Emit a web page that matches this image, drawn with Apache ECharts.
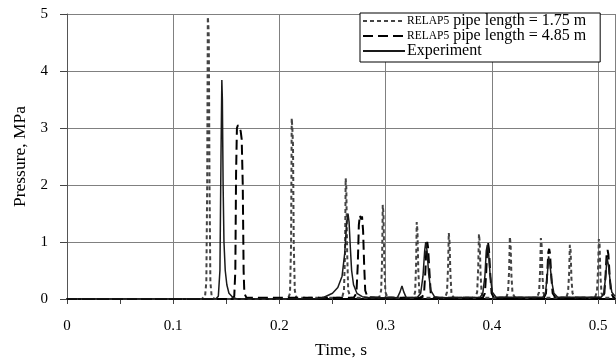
<!DOCTYPE html>
<html>
<head>
<meta charset="utf-8">
<script src="https://cdn.jsdelivr.net/npm/echarts@6/dist/echarts.min.js"></script>
<style>html,body{margin:0;padding:0;background:#fff;}#c{width:616px;height:363px;}</style>
</head>
<body>
<div id="c"></div>
<script>
// Series names
var seriesNames = ['RELAP5 pipe length = 1.75 m', 'RELAP5 pipe length = 4.85 m', 'Experiment'];
// Axis ticks
var xTicks = [0, 0.1, 0.2, 0.3, 0.4, 0.5];
var yTicks = [0, 1, 2, 3, 4, 5];

// RELAP5, pipe length 1.75 m  [time s, pressure MPa]
var relap175 = [
  [0,0],[0.127,0],
  [0.1300,0.05],[0.1312,0.3],[0.1320,2.0],[0.1326,4.95],[0.1331,4.8],[0.1335,4.6],[0.1342,2.0],[0.1350,0.3],[0.1362,0.05],[0.139,0],
  [0.208,0],[0.2100,0.1],[0.2110,1.0],[0.2116,3.17],[0.2122,3.0],[0.2128,2.7],[0.2135,1.0],[0.2145,0.15],[0.216,0.02],
  [0.259,0.02],[0.2608,0.15],[0.2618,0.8],[0.2624,2.12],[0.2630,1.95],[0.2638,0.8],[0.2648,0.15],[0.267,0.02],
  [0.294,0.02],[0.2958,0.15],[0.2967,0.7],[0.2973,1.65],[0.2980,1.5],[0.2988,0.6],[0.2998,0.12],[0.302,0.02],
  [0.326,0.02],[0.3278,0.12],[0.3287,0.6],[0.3293,1.35],[0.3300,1.2],[0.3308,0.5],[0.3318,0.1],[0.334,0.02],
  [0.356,0.02],[0.3578,0.12],[0.3588,0.55],[0.3595,1.16],[0.3602,1.0],[0.3610,0.45],[0.3620,0.1],[0.364,0.02],
  [0.3845,0.02],[0.3862,0.12],[0.3872,0.55],[0.3879,1.14],[0.3886,1.0],[0.3894,0.45],[0.3904,0.1],[0.393,0.02],
  [0.4135,0.02],[0.4153,0.12],[0.4163,0.5],[0.4170,1.09],[0.4177,0.95],[0.4185,0.4],[0.4195,0.1],[0.422,0.02],
  [0.4425,0.02],[0.4445,0.12],[0.4455,0.5],[0.4462,1.07],[0.4469,0.95],[0.4477,0.4],[0.4487,0.1],[0.451,0.02],
  [0.4700,0.02],[0.4718,0.12],[0.4728,0.45],[0.4735,0.95],[0.4742,0.85],[0.4750,0.35],[0.4760,0.1],[0.479,0.02],
  [0.4970,0.02],[0.4990,0.12],[0.5000,0.5],[0.5008,1.05],[0.5015,0.95],[0.5023,0.4],[0.5033,0.1],[0.506,0.02],[0.516,0.02]
];

// RELAP5, pipe length 4.85 m
var relap485 = [
  [0,0],[0.155,0],
  [0.1575,0.05],[0.1585,0.5],[0.1592,2.2],[0.1600,3.0],[0.1610,3.05],[0.1622,3.05],[0.1635,2.95],[0.1645,2.8],[0.1655,2.0],[0.1663,0.5],[0.1670,0.1],[0.169,0.02],
  [0.270,0.02],[0.2725,0.1],[0.2738,0.6],[0.2748,1.3],[0.2758,1.47],[0.2768,1.4],[0.2778,1.45],[0.2788,1.2],[0.2798,0.6],[0.2808,0.15],[0.283,0.03],
  [0.334,0.02],[0.3362,0.1],[0.3375,0.5],[0.3385,0.95],[0.3392,1.0],[0.3400,0.9],[0.3412,0.5],[0.3425,0.1],[0.345,0.02],
  [0.3915,0.02],[0.3935,0.1],[0.3948,0.5],[0.3958,0.92],[0.3965,0.98],[0.3973,0.88],[0.3985,0.45],[0.3998,0.1],[0.402,0.02],
  [0.449,0.02],[0.4510,0.1],[0.4522,0.45],[0.4532,0.82],[0.4540,0.88],[0.4548,0.8],[0.4560,0.4],[0.4573,0.1],[0.460,0.02],
  [0.504,0.02],[0.5060,0.1],[0.5072,0.45],[0.5082,0.82],[0.5090,0.86],[0.5098,0.78],[0.5110,0.4],[0.5123,0.1],[0.515,0.02],[0.516,0.02]
];

// Experiment
var experiment = [
  [0,0],[0.140,0],
  [0.1425,0.05],[0.1440,0.5],[0.1450,2.5],[0.1458,3.84],[0.1463,3.5],[0.1470,2.0],[0.1478,1.0],[0.1490,0.5],[0.1505,0.25],[0.1525,0.1],[0.156,0.03],[0.160,0],
  [0.235,0],[0.242,0.03],[0.250,0.1],[0.255,0.2],[0.259,0.4],[0.2615,0.8],[0.2632,1.3],[0.2646,1.5],[0.2656,1.35],[0.2668,0.9],[0.2680,0.5],[0.2698,0.25],[0.273,0.1],[0.278,0.04],[0.285,0.02],
  [0.311,0.02],[0.3135,0.12],[0.3154,0.23],[0.3172,0.12],[0.3195,0.02],
  [0.330,0.03],[0.333,0.1],[0.3352,0.4],[0.3368,0.85],[0.3378,1.0],[0.3390,0.85],[0.3405,0.45],[0.3425,0.15],[0.346,0.04],[0.352,0.02],
  [0.389,0.03],[0.3915,0.1],[0.3935,0.4],[0.3948,0.85],[0.3958,0.95],[0.3970,0.8],[0.3985,0.4],[0.4005,0.12],[0.404,0.03],
  [0.448,0.03],[0.4505,0.1],[0.4522,0.4],[0.4535,0.75],[0.4548,0.6],[0.4565,0.3],[0.4585,0.1],[0.462,0.03],
  [0.503,0.03],[0.5055,0.1],[0.5072,0.4],[0.5085,0.72],[0.5098,0.6],[0.5115,0.3],[0.5130,0.12],[0.516,0.05]
];

var FONT = '"Liberation Serif","DejaVu Serif",serif';
var chart = echarts.init(document.getElementById('c'), null, {renderer: 'canvas'});
chart.setOption({
  animation: false,
  backgroundColor: '#fff',
  textStyle: {fontFamily: FONT, color: '#000'},
  grid: {left: 67, top: 14, right: 1, bottom: 64, containLabel: false, outerBoundsMode: 'none'},
  legend: {
    orient: 'vertical', left: 360, top: 13,
    backgroundColor: '#fff', borderColor: '#000', borderWidth: 1,
    padding: [0, 14, 3, 2], itemGap: -1, itemWidth: 42, itemHeight: 10,
    itemStyle: {color: 'rgba(0,0,0,0)', borderWidth: 0, opacity: 0},
    textStyle: {fontFamily: FONT, fontSize: 16, lineHeight: 15, color: '#000', padding: [0,0,0,-3],
      rich: {s: {fontFamily: FONT, fontSize: 11.5, lineHeight: 15, color: '#000'}}},
    formatter: function (n) {
      return n.indexOf('RELAP5') === 0 ? '{s|RELAP5}' + n.slice(6) : n;
    },
    data: seriesNames
  },
  xAxis: {
    type: 'value', min: xTicks[0], max: 0.516, interval: 0.1,
    name: 'Time, s', nameLocation: 'middle', nameGap: 42,
    nameTextStyle: {fontFamily: FONT, fontSize: 17.5, color: '#000'},
    axisLine: {show: true, onZero: false, lineStyle: {color: '#000', width: 2}},
    axisTick: {show: true, length: 5, lineStyle: {color: '#444'}},
    minorTick: {show: true, splitNumber: 2, length: 5, lineStyle: {color: '#444'}},
    axisLabel: {fontFamily: FONT, fontSize: 15, color: '#000', margin: 20, showMaxLabel: false,
      formatter: function (v) { return xTicks.indexOf(Math.round(v * 10) / 10) >= 0 && Math.abs(v * 10 - Math.round(v * 10)) < 1e-6 ? String(Math.round(v * 10) / 10) : ''; }},
    splitLine: {show: true, lineStyle: {color: '#808080', width: 1}}
  },
  yAxis: {
    type: 'value', min: yTicks[0], max: yTicks[yTicks.length - 1], interval: 1,
    name: 'Pressure, MPa', nameLocation: 'middle', nameGap: 33, nameRotate: 90,
    nameTextStyle: {fontFamily: FONT, fontSize: 17.5, color: '#000'},
    axisLine: {show: true, lineStyle: {color: '#555', width: 1}},
    axisTick: {show: true, length: 7, lineStyle: {color: '#444'}},
    axisLabel: {fontFamily: FONT, fontSize: 15, color: '#000', margin: 19},
    splitLine: {show: true, lineStyle: {color: '#808080', width: 1}}
  },
  series: [
    {name: seriesNames[0], type: 'line', data: relap175, showSymbol: false, symbol: 'none', z: 3,
      lineStyle: {color: '#444', width: 2, type: [4, 3]}, itemStyle: {color: '#444'}},
    {name: seriesNames[1], type: 'line', data: relap485, showSymbol: false, symbol: 'none', z: 4,
      lineStyle: {color: '#000', width: 2, type: [10, 5]}, itemStyle: {color: '#000'}},
    {name: seriesNames[2], type: 'line', data: experiment, showSymbol: false, symbol: 'none', z: 5,
      lineStyle: {color: '#1a1a1a', width: 1.5}, itemStyle: {color: '#1a1a1a'}}
  ]
});
</script>
</body>
</html>
